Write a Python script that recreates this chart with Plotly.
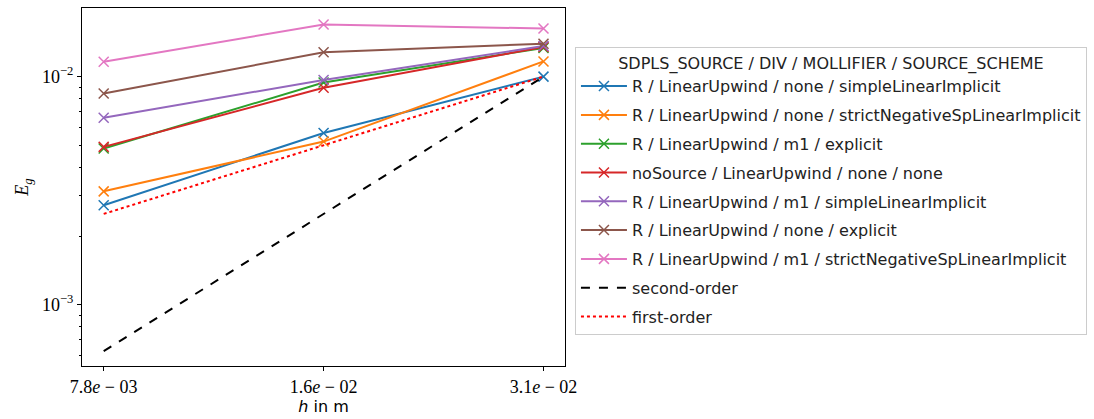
import plotly.graph_objects as go

# Grid spacing h (m) and the error E_g of each scheme combination
h = [0.0078125, 0.015625, 0.03125]

series_names = [
    "R / LinearUpwind / none / simpleLinearImplicit",
    "R / LinearUpwind / none / strictNegativeSpLinearImplicit",
    "R / LinearUpwind / m1 / explicit",
    "noSource / LinearUpwind / none / none",
    "R / LinearUpwind / m1 / simpleLinearImplicit",
    "R / LinearUpwind / none / explicit",
    "R / LinearUpwind / m1 / strictNegativeSpLinearImplicit",
]
err_simple_none = [0.00273, 0.00566, 0.0100]
err_strict_none = [0.00314, 0.00519, 0.01166]
err_explicit_m1 = [0.00484, 0.00942, 0.01336]
err_nosource = [0.00492, 0.00893, 0.01349]
err_simple_m1 = [0.00660, 0.00967, 0.01363]
err_explicit_none = [0.00844, 0.01279, 0.01394]
err_strict_m1 = [0.01162, 0.01692, 0.01626]
series_values = [err_simple_none, err_strict_none, err_explicit_m1, err_nosource,
                 err_simple_m1, err_explicit_none, err_strict_m1]
series_colors = ["#1f77b4", "#ff7f0e", "#2ca02c", "#d62728", "#9467bd", "#8c564b", "#e377c2"]

# Reference convergence slopes anchored at the coarsest grid
ref_anchor = 0.01
second_order = [ref_anchor * (hi / h[-1]) ** 2 for hi in h]
first_order = [ref_anchor * (hi / h[-1]) for hi in h]

x_tick_labels = ["7.8<i>e</i> − 03", "1.6<i>e</i> − 02", "3.1<i>e</i> − 02"]
y_tick_vals = [1e-3, 1e-2]
y_tick_labels = ["10<sup>−3</sup>", "10<sup>−2</sup>"]
y_minor_vals = [6e-4, 7e-4, 8e-4, 9e-4,
                2e-3, 3e-3, 4e-3, 5e-3, 6e-3, 7e-3, 8e-3, 9e-3]

legend_title = "SDPLS_SOURCE / DIV / MOLLIFIER / SOURCE_SCHEME"

fig = go.Figure()
for i, (name, vals, col) in enumerate(zip(series_names, series_values, series_colors)):
    fig.add_trace(go.Scatter(
        x=h, y=vals, name=name, mode="lines+markers",
        line=dict(color=col, width=2),
        marker=dict(symbol="x-thin", size=10, line=dict(color=col, width=1.5)),
        legendgroup=f"g{i}",
    ))
fig.add_trace(go.Scatter(x=h, y=second_order, name="second-order", mode="lines",
                         line=dict(color="black", width=2, dash="dash"), legendgroup="g7"))
fig.add_trace(go.Scatter(x=h, y=first_order, name="first-order", mode="lines",
                         line=dict(color="red", width=2, dash="dot"), legendgroup="g8"))

serif = "Liberation Serif"
sans = "DejaVu Sans"

fig.update_layout(
    width=1094, height=419,
    margin=dict(l=82, r=527, t=7, b=49),
    paper_bgcolor="white", plot_bgcolor="white",
    showlegend=True,
    legend=dict(
        x=1.0206, xanchor="left", y=0.89, yanchor="top",
        bordercolor="#cccccc", borderwidth=1,
        font=dict(family=sans, size=16, color="#222"),
        title=dict(text=legend_title, side="top center", font=dict(family=sans, size=16, color="#222")),
        itemwidth=46, tracegroupgap=5,
    ),
    xaxis=dict(
        type="log", range=[-2.1369, -1.4757],
        tickvals=h, ticktext=x_tick_labels,
        tickfont=dict(family=serif, size=18, color="black"),
        ticks="outside", ticklen=4, tickcolor="black",
        showgrid=False, zeroline=False,
        showline=True, mirror=True, linecolor="black", linewidth=1,
        title=dict(text="<i>h</i> in m", font=dict(family=sans, size=16, color="black"), standoff=4),
    ),
    yaxis=dict(
        type="log", range=[-3.269, -1.699],
        tickvals=y_tick_vals, ticktext=y_tick_labels,
        tickfont=dict(family=serif, size=18, color="black"),
        ticks="outside", ticklen=4, tickcolor="black",
        minor=dict(tickmode="array", tickvals=y_minor_vals,
                   ticks="outside", ticklen=2, tickcolor="black", showgrid=False),
        showgrid=False, zeroline=False,
        showline=True, mirror=True, linecolor="black", linewidth=1,
        title=dict(text="<i>E</i><sub><i>g</i></sub>", font=dict(family=serif, size=18, color="black"), standoff=8),
    ),
)

fig.write_html("out.html")
